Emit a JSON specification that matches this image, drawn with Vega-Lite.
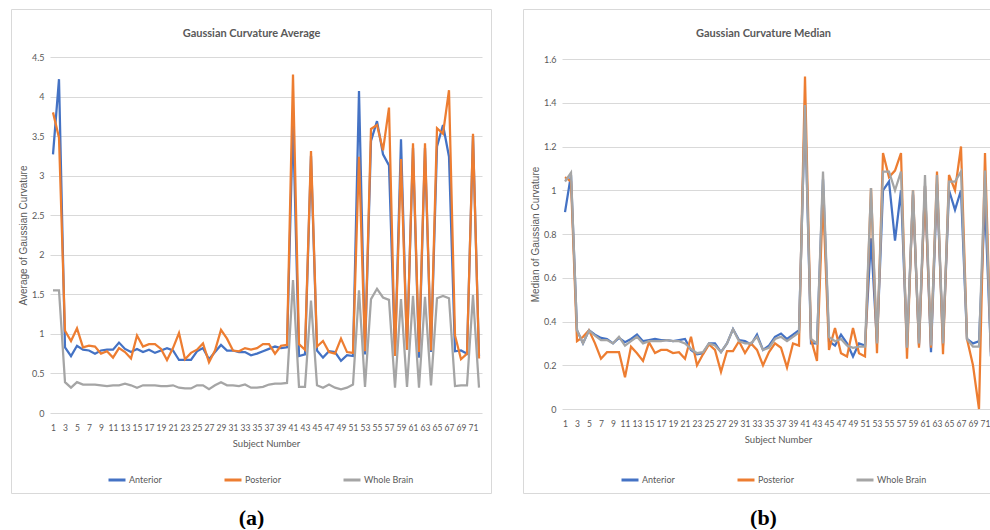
{
"$schema": "https://vega.github.io/schema/vega-lite/v6.json",
"padding": {"left": 10, "top": 8, "right": 0, "bottom": 0},
"background": "white",
"spacing": 30,
"data": {"values": [
{"s":1,"r":"Anterior","avg":3.27,"med":0.90},{"s":2,"r":"Anterior","avg":4.22,"med":1.07},{"s":3,"r":"Anterior","avg":0.83,"med":0.36},{"s":4,"r":"Anterior","avg":0.72,"med":0.30},{"s":5,"r":"Anterior","avg":0.85,"med":0.36},{"s":6,"r":"Anterior","avg":0.80,"med":0.34},{"s":7,"r":"Anterior","avg":0.79,"med":0.325},{"s":8,"r":"Anterior","avg":0.75,"med":0.32},{"s":9,"r":"Anterior","avg":0.79,"med":0.30},{"s":10,"r":"Anterior","avg":0.80,"med":0.325},
{"s":11,"r":"Anterior","avg":0.80,"med":0.305},{"s":12,"r":"Anterior","avg":0.89,"med":0.32},{"s":13,"r":"Anterior","avg":0.81,"med":0.34},{"s":14,"r":"Anterior","avg":0.77,"med":0.31},{"s":15,"r":"Anterior","avg":0.81,"med":0.315},{"s":16,"r":"Anterior","avg":0.77,"med":0.32},{"s":17,"r":"Anterior","avg":0.80,"med":0.315},{"s":18,"r":"Anterior","avg":0.76,"med":0.315},{"s":19,"r":"Anterior","avg":0.79,"med":0.31},{"s":20,"r":"Anterior","avg":0.82,"med":0.315},
{"s":21,"r":"Anterior","avg":0.79,"med":0.32},{"s":22,"r":"Anterior","avg":0.67,"med":0.27},{"s":23,"r":"Anterior","avg":0.67,"med":0.25},{"s":24,"r":"Anterior","avg":0.67,"med":0.255},{"s":25,"r":"Anterior","avg":0.78,"med":0.30},{"s":26,"r":"Anterior","avg":0.82,"med":0.30},{"s":27,"r":"Anterior","avg":0.68,"med":0.26},{"s":28,"r":"Anterior","avg":0.77,"med":0.30},{"s":29,"r":"Anterior","avg":0.86,"med":0.365},{"s":30,"r":"Anterior","avg":0.79,"med":0.315},
{"s":31,"r":"Anterior","avg":0.79,"med":0.31},{"s":32,"r":"Anterior","avg":0.77,"med":0.295},{"s":33,"r":"Anterior","avg":0.77,"med":0.34},{"s":34,"r":"Anterior","avg":0.73,"med":0.27},{"s":35,"r":"Anterior","avg":0.75,"med":0.29},{"s":36,"r":"Anterior","avg":0.78,"med":0.33},{"s":37,"r":"Anterior","avg":0.81,"med":0.345},{"s":38,"r":"Anterior","avg":0.84,"med":0.32},{"s":39,"r":"Anterior","avg":0.82,"med":0.34},{"s":40,"r":"Anterior","avg":0.83,"med":0.36},
{"s":41,"r":"Anterior","avg":3.70,"med":1.38},{"s":42,"r":"Anterior","avg":0.72,"med":0.30},{"s":43,"r":"Anterior","avg":0.74,"med":0.30},{"s":44,"r":"Anterior","avg":3.25,"med":1.05},{"s":45,"r":"Anterior","avg":0.79,"med":0.31},{"s":46,"r":"Anterior","avg":0.70,"med":0.29},{"s":47,"r":"Anterior","avg":0.78,"med":0.34},{"s":48,"r":"Anterior","avg":0.77,"med":0.30},{"s":49,"r":"Anterior","avg":0.66,"med":0.24},{"s":50,"r":"Anterior","avg":0.73,"med":0.30},
{"s":51,"r":"Anterior","avg":0.72,"med":0.29},{"s":52,"r":"Anterior","avg":4.07,"med":0.78},{"s":53,"r":"Anterior","avg":0.74,"med":0.30},{"s":54,"r":"Anterior","avg":3.44,"med":1.0},{"s":55,"r":"Anterior","avg":3.69,"med":1.04},{"s":56,"r":"Anterior","avg":3.27,"med":0.77},{"s":57,"r":"Anterior","avg":3.13,"med":1.0},{"s":58,"r":"Anterior","avg":0.74,"med":0.28},{"s":59,"r":"Anterior","avg":3.46,"med":0.98},{"s":60,"r":"Anterior","avg":0.80,"med":0.29},
{"s":61,"r":"Anterior","avg":3.35,"med":1.02},{"s":62,"r":"Anterior","avg":0.70,"med":0.26},{"s":63,"r":"Anterior","avg":3.35,"med":1.03},{"s":64,"r":"Anterior","avg":0.77,"med":0.29},{"s":65,"r":"Anterior","avg":3.37,"med":1.0},{"s":66,"r":"Anterior","avg":3.64,"med":0.91},{"s":67,"r":"Anterior","avg":3.24,"med":1.0},{"s":68,"r":"Anterior","avg":0.78,"med":0.32},{"s":69,"r":"Anterior","avg":0.79,"med":0.30},{"s":70,"r":"Anterior","avg":0.75,"med":0.31},
{"s":71,"r":"Anterior","avg":3.50,"med":0.95},{"s":72,"r":"Anterior","avg":0.72,"med":0.24},
{"s":1,"r":"Posterior","avg":3.80,"med":1.06},{"s":2,"r":"Posterior","avg":3.48,"med":1.04},{"s":3,"r":"Posterior","avg":1.04,"med":0.31},{"s":4,"r":"Posterior","avg":0.91,"med":0.33},{"s":5,"r":"Posterior","avg":1.07,"med":0.36},{"s":6,"r":"Posterior","avg":0.83,"med":0.30},{"s":7,"r":"Posterior","avg":0.85,"med":0.23},{"s":8,"r":"Posterior","avg":0.84,"med":0.26},{"s":9,"r":"Posterior","avg":0.75,"med":0.26},{"s":10,"r":"Posterior","avg":0.78,"med":0.26},
{"s":11,"r":"Posterior","avg":0.70,"med":0.145},{"s":12,"r":"Posterior","avg":0.82,"med":0.285},{"s":13,"r":"Posterior","avg":0.77,"med":0.255},{"s":14,"r":"Posterior","avg":0.69,"med":0.22},{"s":15,"r":"Posterior","avg":0.98,"med":0.305},{"s":16,"r":"Posterior","avg":0.84,"med":0.256},{"s":17,"r":"Posterior","avg":0.87,"med":0.27},{"s":18,"r":"Posterior","avg":0.87,"med":0.27},{"s":19,"r":"Posterior","avg":0.81,"med":0.256},{"s":20,"r":"Posterior","avg":0.67,"med":0.26},
{"s":21,"r":"Posterior","avg":0.82,"med":0.23},{"s":22,"r":"Posterior","avg":1.01,"med":0.33},{"s":23,"r":"Posterior","avg":0.68,"med":0.20},{"s":24,"r":"Posterior","avg":0.76,"med":0.25},{"s":25,"r":"Posterior","avg":0.80,"med":0.295},{"s":26,"r":"Posterior","avg":0.88,"med":0.27},{"s":27,"r":"Posterior","avg":0.64,"med":0.17},{"s":28,"r":"Posterior","avg":0.79,"med":0.265},{"s":29,"r":"Posterior","avg":1.05,"med":0.265},{"s":30,"r":"Posterior","avg":0.94,"med":0.31},
{"s":31,"r":"Posterior","avg":0.79,"med":0.256},{"s":32,"r":"Posterior","avg":0.78,"med":0.30},{"s":33,"r":"Posterior","avg":0.82,"med":0.27},{"s":34,"r":"Posterior","avg":0.80,"med":0.20},{"s":35,"r":"Posterior","avg":0.82,"med":0.26},{"s":36,"r":"Posterior","avg":0.87,"med":0.30},{"s":37,"r":"Posterior","avg":0.87,"med":0.28},{"s":38,"r":"Posterior","avg":0.75,"med":0.19},{"s":39,"r":"Posterior","avg":0.85,"med":0.30},{"s":40,"r":"Posterior","avg":0.86,"med":0.29},
{"s":41,"r":"Posterior","avg":4.28,"med":1.52},{"s":42,"r":"Posterior","avg":0.87,"med":0.32},{"s":43,"r":"Posterior","avg":0.80,"med":0.22},{"s":44,"r":"Posterior","avg":3.31,"med":0.97},{"s":45,"r":"Posterior","avg":0.84,"med":0.27},{"s":46,"r":"Posterior","avg":0.91,"med":0.37},{"s":47,"r":"Posterior","avg":0.77,"med":0.255},{"s":48,"r":"Posterior","avg":0.75,"med":0.24},{"s":49,"r":"Posterior","avg":0.94,"med":0.37},{"s":50,"r":"Posterior","avg":0.77,"med":0.255},
{"s":51,"r":"Posterior","avg":0.76,"med":0.24},{"s":52,"r":"Posterior","avg":3.24,"med":1.01},{"s":53,"r":"Posterior","avg":0.78,"med":0.255},{"s":54,"r":"Posterior","avg":3.59,"med":1.17},{"s":55,"r":"Posterior","avg":3.64,"med":1.06},{"s":56,"r":"Posterior","avg":3.32,"med":1.09},{"s":57,"r":"Posterior","avg":3.86,"med":1.17},{"s":58,"r":"Posterior","avg":0.72,"med":0.23},{"s":59,"r":"Posterior","avg":3.21,"med":1.0},{"s":60,"r":"Posterior","avg":0.80,"med":0.28},
{"s":61,"r":"Posterior","avg":3.41,"med":1.02},{"s":62,"r":"Posterior","avg":0.77,"med":0.28},{"s":63,"r":"Posterior","avg":3.41,"med":1.085},{"s":64,"r":"Posterior","avg":0.79,"med":0.25},{"s":65,"r":"Posterior","avg":3.60,"med":1.07},{"s":66,"r":"Posterior","avg":3.53,"med":1.0},{"s":67,"r":"Posterior","avg":4.08,"med":1.2},{"s":68,"r":"Posterior","avg":0.98,"med":0.32},{"s":69,"r":"Posterior","avg":0.68,"med":0.2},{"s":70,"r":"Posterior","avg":0.75,"med":0.0},
{"s":71,"r":"Posterior","avg":3.53,"med":1.17},{"s":72,"r":"Posterior","avg":0.69,"med":0.26},
{"s":1,"r":"Whole Brain","avg":1.55,"med":1.04},{"s":2,"r":"Whole Brain","avg":1.55,"med":1.08},{"s":3,"r":"Whole Brain","avg":0.39,"med":0.36},{"s":4,"r":"Whole Brain","avg":0.32,"med":0.30},{"s":5,"r":"Whole Brain","avg":0.39,"med":0.36},{"s":6,"r":"Whole Brain","avg":0.36,"med":0.335},{"s":7,"r":"Whole Brain","avg":0.36,"med":0.315},{"s":8,"r":"Whole Brain","avg":0.36,"med":0.315},{"s":9,"r":"Whole Brain","avg":0.35,"med":0.30},{"s":10,"r":"Whole Brain","avg":0.34,"med":0.33},
{"s":11,"r":"Whole Brain","avg":0.35,"med":0.29},{"s":12,"r":"Whole Brain","avg":0.35,"med":0.31},{"s":13,"r":"Whole Brain","avg":0.37,"med":0.33},{"s":14,"r":"Whole Brain","avg":0.35,"med":0.30},{"s":15,"r":"Whole Brain","avg":0.32,"med":0.31},{"s":16,"r":"Whole Brain","avg":0.35,"med":0.31},{"s":17,"r":"Whole Brain","avg":0.35,"med":0.31},{"s":18,"r":"Whole Brain","avg":0.35,"med":0.315},{"s":19,"r":"Whole Brain","avg":0.34,"med":0.31},{"s":20,"r":"Whole Brain","avg":0.34,"med":0.31},
{"s":21,"r":"Whole Brain","avg":0.35,"med":0.30},{"s":22,"r":"Whole Brain","avg":0.32,"med":0.275},{"s":23,"r":"Whole Brain","avg":0.31,"med":0.255},{"s":24,"r":"Whole Brain","avg":0.31,"med":0.26},{"s":25,"r":"Whole Brain","avg":0.35,"med":0.30},{"s":26,"r":"Whole Brain","avg":0.35,"med":0.29},{"s":27,"r":"Whole Brain","avg":0.30,"med":0.26},{"s":28,"r":"Whole Brain","avg":0.35,"med":0.30},{"s":29,"r":"Whole Brain","avg":0.39,"med":0.365},{"s":30,"r":"Whole Brain","avg":0.35,"med":0.31},
{"s":31,"r":"Whole Brain","avg":0.35,"med":0.30},{"s":32,"r":"Whole Brain","avg":0.34,"med":0.30},{"s":33,"r":"Whole Brain","avg":0.36,"med":0.33},{"s":34,"r":"Whole Brain","avg":0.32,"med":0.27},{"s":35,"r":"Whole Brain","avg":0.32,"med":0.28},{"s":36,"r":"Whole Brain","avg":0.33,"med":0.32},{"s":37,"r":"Whole Brain","avg":0.36,"med":0.33},{"s":38,"r":"Whole Brain","avg":0.37,"med":0.31},{"s":39,"r":"Whole Brain","avg":0.37,"med":0.33},{"s":40,"r":"Whole Brain","avg":0.38,"med":0.35},
{"s":41,"r":"Whole Brain","avg":1.68,"med":1.39},{"s":42,"r":"Whole Brain","avg":0.33,"med":0.32},{"s":43,"r":"Whole Brain","avg":0.33,"med":0.30},{"s":44,"r":"Whole Brain","avg":1.42,"med":1.085},{"s":45,"r":"Whole Brain","avg":0.35,"med":0.33},{"s":46,"r":"Whole Brain","avg":0.32,"med":0.31},{"s":47,"r":"Whole Brain","avg":0.36,"med":0.32},{"s":48,"r":"Whole Brain","avg":0.32,"med":0.29},{"s":49,"r":"Whole Brain","avg":0.30,"med":0.28},{"s":50,"r":"Whole Brain","avg":0.32,"med":0.285},
{"s":51,"r":"Whole Brain","avg":0.36,"med":0.285},{"s":52,"r":"Whole Brain","avg":1.55,"med":1.01},{"s":53,"r":"Whole Brain","avg":0.33,"med":0.30},{"s":54,"r":"Whole Brain","avg":1.44,"med":1.085},{"s":55,"r":"Whole Brain","avg":1.57,"med":1.085},{"s":56,"r":"Whole Brain","avg":1.46,"med":1.0},{"s":57,"r":"Whole Brain","avg":1.43,"med":1.085},{"s":58,"r":"Whole Brain","avg":0.32,"med":0.28},{"s":59,"r":"Whole Brain","avg":1.44,"med":1.0},{"s":60,"r":"Whole Brain","avg":0.33,"med":0.30},
{"s":61,"r":"Whole Brain","avg":1.48,"med":1.07},{"s":62,"r":"Whole Brain","avg":0.32,"med":0.29},{"s":63,"r":"Whole Brain","avg":1.47,"med":1.07},{"s":64,"r":"Whole Brain","avg":0.35,"med":0.30},{"s":65,"r":"Whole Brain","avg":1.45,"med":1.04},{"s":66,"r":"Whole Brain","avg":1.48,"med":1.04},{"s":67,"r":"Whole Brain","avg":1.45,"med":1.085},{"s":68,"r":"Whole Brain","avg":0.34,"med":0.32},{"s":69,"r":"Whole Brain","avg":0.35,"med":0.285},{"s":70,"r":"Whole Brain","avg":0.35,"med":0.285},
{"s":71,"r":"Whole Brain","avg":1.49,"med":1.09},{"s":72,"r":"Whole Brain","avg":0.32,"med":0.24}
]},
"resolve": {"legend": {"color": "independent"}},
"config": {
  "font": "Lato",
  "view": {"stroke": "#d9d9d9", "strokeWidth": 1}
},
"hconcat": [
{
  "width": 480, "height": 484,
  "encoding": {
    "y": {"field": "avg", "type": "quantitative",
      "scale": {"domain": [0, 4.5], "range": [404, 48], "nice": false},
      "axis": {"orient": "left", "offset": -39, "values": [0,0.5,1,1.5,2,2.5,3,3.5,4,4.5], "format": "~g", "grid": true, "gridColor": "#d9d9d9", "domain": false, "ticks": false, "labelFontSize": 9, "labelColor": "#595959", "labelPadding": 6, "title": "Average of Gaussian Curvature", "titleFont": "Liberation Sans", "titleFontSize": 10, "titleFontWeight": "normal", "titleColor": "#595959", "titlePadding": 3}},
    "color": {"field": "r", "type": "nominal",
      "scale": {"domain": ["Anterior", "Posterior", "Whole Brain"], "range": ["#4472c4", "#ed7d31", "#a5a5a5"]},
      "legend": {"orient": "none", "legendX": 96, "legendY": 461, "direction": "horizontal", "title": null, "symbolType": "stroke", "symbolStrokeWidth": 3, "symbolSize": 289, "labelFontSize": 9, "labelColor": "#595959", "labelOffset": 2, "columnPadding": 56}}
  },
  "layer": [
    {"transform": [{"filter": "datum.r == 'Anterior'"}],
     "mark": {"type": "line", "strokeWidth": 2.25},
     "encoding": {"x": {"field": "s", "type": "quantitative",
       "scale": {"domain": [0.5, 72.5], "range": [39, 471], "nice": false, "zero": false},
       "axis": {"orient": "bottom", "offset": -80, "values": [1,3,5,7,9,11,13,15,17,19,21,23,25,27,29,31,33,35,37,39,41,43,45,47,49,51,53,55,57,59,61,63,65,67,69,71], "format": "d", "grid": false, "domain": false, "ticks": false, "labelFontSize": 8.5, "labelColor": "#595959", "labelPadding": 10, "labelOverlap": false, "labelFlush": false, "title": "Subject Number", "titleFontSize": 9.5, "titleFontWeight": "normal", "titleColor": "#595959", "titlePadding": 7}}}},
    {"transform": [{"filter": "datum.r == 'Posterior'"}],
     "mark": {"type": "line", "strokeWidth": 2.25},
     "encoding": {"x": {"field": "s", "type": "quantitative",
       "scale": {"domain": [0.5, 72.5], "range": [39, 471], "nice": false, "zero": false},
       "axis": {"orient": "top", "grid": false, "domain": false, "ticks": false, "labels": false, "title": "Gaussian Curvature Average", "titleFontSize": 11, "titleFontWeight": "bold", "titleColor": "#595959", "titleX": 240, "titleY": 24, "titleBaseline": "middle"}}}},
    {"transform": [{"filter": "datum.r == 'Whole Brain'"}],
     "mark": {"type": "line", "strokeWidth": 2.25},
     "encoding": {"x": {"field": "s", "type": "quantitative",
       "scale": {"domain": [0.5, 72.5], "range": [39, 471], "nice": false, "zero": false},
       "axis": {"orient": "bottom", "grid": false, "domain": false, "ticks": false, "labels": false, "title": "(a)", "titleFont": "Liberation Serif", "titleFontSize": 22, "titleFontWeight": "bold", "titleColor": "#000000", "titleX": 240, "titleY": 24, "titleBaseline": "middle"}}}}
  ],
  "resolve": {"axis": {"x": "independent"}}
},
{
  "width": 480, "height": 484,
  "encoding": {
    "y": {"field": "med", "type": "quantitative",
      "scale": {"domain": [0, 1.6], "range": [400, 50], "nice": false},
      "axis": {"orient": "left", "offset": -39, "values": [0,0.2,0.4,0.6,0.8,1,1.2,1.4,1.6], "format": "~g", "grid": true, "gridColor": "#d9d9d9", "domain": false, "ticks": false, "labelFontSize": 9, "labelColor": "#595959", "labelPadding": 6, "title": "Median of Gaussian Curvature", "titleFont": "Liberation Sans", "titleFontSize": 10, "titleFontWeight": "normal", "titleColor": "#595959", "titlePadding": 3}},
    "color": {"field": "r", "type": "nominal",
      "scale": {"domain": ["Anterior", "Posterior", "Whole Brain"], "range": ["#4472c4", "#ed7d31", "#a5a5a5"]},
      "legend": {"orient": "none", "legendX": 97, "legendY": 461, "direction": "horizontal", "title": null, "symbolType": "stroke", "symbolStrokeWidth": 3, "symbolSize": 289, "labelFontSize": 9, "labelColor": "#595959", "labelOffset": 2, "columnPadding": 56}}
  },
  "layer": [
    {"transform": [{"filter": "datum.r == 'Anterior'"}],
     "mark": {"type": "line", "strokeWidth": 2.25},
     "encoding": {"x": {"field": "s", "type": "quantitative",
       "scale": {"domain": [0.5, 72.5], "range": [39, 471], "nice": false, "zero": false},
       "axis": {"orient": "bottom", "offset": -84, "values": [1,3,5,7,9,11,13,15,17,19,21,23,25,27,29,31,33,35,37,39,41,43,45,47,49,51,53,55,57,59,61,63,65,67,69,71], "format": "d", "grid": false, "domain": false, "ticks": false, "labelFontSize": 8.5, "labelColor": "#595959", "labelPadding": 10, "labelOverlap": false, "labelFlush": false, "title": "Subject Number", "titleFontSize": 9.5, "titleFontWeight": "normal", "titleColor": "#595959", "titlePadding": 7}}}},
    {"transform": [{"filter": "datum.r == 'Posterior'"}],
     "mark": {"type": "line", "strokeWidth": 2.25},
     "encoding": {"x": {"field": "s", "type": "quantitative",
       "scale": {"domain": [0.5, 72.5], "range": [39, 471], "nice": false, "zero": false},
       "axis": {"orient": "top", "grid": false, "domain": false, "ticks": false, "labels": false, "title": "Gaussian Curvature Median", "titleFontSize": 11, "titleFontWeight": "bold", "titleColor": "#595959", "titleX": 240, "titleY": 24, "titleBaseline": "middle"}}}},
    {"transform": [{"filter": "datum.r == 'Whole Brain'"}],
     "mark": {"type": "line", "strokeWidth": 2.25},
     "encoding": {"x": {"field": "s", "type": "quantitative",
       "scale": {"domain": [0.5, 72.5], "range": [39, 471], "nice": false, "zero": false},
       "axis": {"orient": "bottom", "grid": false, "domain": false, "ticks": false, "labels": false, "title": "(b)", "titleFont": "Liberation Serif", "titleFontSize": 22, "titleFontWeight": "bold", "titleColor": "#000000", "titleX": 240, "titleY": 24, "titleBaseline": "middle"}}}}
  ],
  "resolve": {"axis": {"x": "independent"}}
}
]
}
